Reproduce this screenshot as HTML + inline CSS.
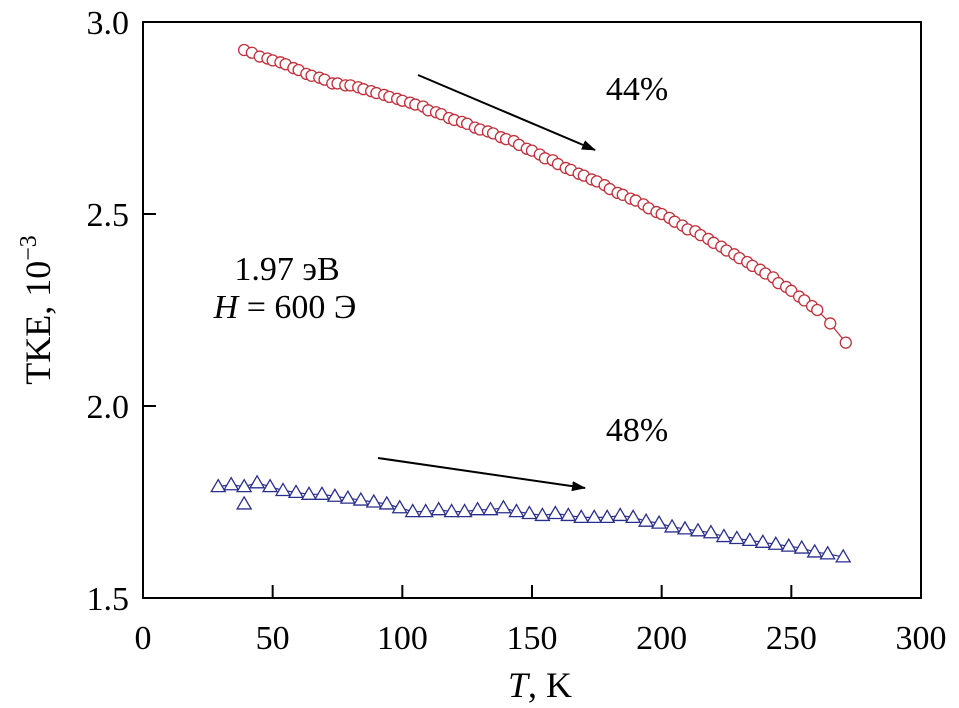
<!DOCTYPE html>
<html><head><meta charset="utf-8"><style>
body{margin:0;background:#fff;}
svg{display:block;font-family:"Liberation Serif",serif;}
</style></head><body>
<svg id="chart" width="959" height="708" viewBox="0 0 959 708" xmlns="http://www.w3.org/2000/svg">
<defs><marker id="ah" markerWidth="14" markerHeight="10" refX="13" refY="5" orient="auto" markerUnits="userSpaceOnUse"><path d="M0,0 L14,5 L0,10 z" fill="#000"/></marker></defs>
<g id="marks"></g>
<rect x="143" y="22" width="778" height="576" fill="none" stroke="#000" stroke-width="2"/>
<g id="axes"></g>
<text x="540" y="697" font-size="36" text-anchor="middle"><tspan font-style="italic">T</tspan>, K</text>
<text transform="translate(50,310) rotate(-90)" font-size="36" text-anchor="middle">TKE, 10<tspan font-size="24" dy="-14">−3</tspan></text>
<text x="287" y="280" font-size="34" text-anchor="middle">1.97 эВ</text>
<text x="285" y="318" font-size="34" text-anchor="middle"><tspan font-style="italic">H</tspan> = 600 Э</text>
<text x="637" y="100" font-size="34" text-anchor="middle">44%</text>
<text x="637" y="441" font-size="34" text-anchor="middle">48%</text>
<line x1="418" y1="75" x2="595" y2="150" stroke="#000" stroke-width="2" marker-end="url(#ah)"/>
<line x1="378" y1="458" x2="585" y2="488" stroke="#000" stroke-width="2" marker-end="url(#ah)"/>
</svg>
<script>
const xTicks=[0,50,100,150,200,250,300];
const yTicks=[1.5,2.0,2.5,3.0];
const yTickLabels=["1.5","2.0","2.5","3.0"];
const redT=[39,42,45,48,50,53,55,58,60,63,65,68,70,73,75,78,80,83,85,88,90,93,95,98,100,103,105,108,110,113,115,118,120,123,125,128,130,133,135,138,140,143,145,148,150,153,155,158,160,163,165,168,170,173,175,178,180,183,185,188,190,193,195,198,200,203,205,208,210,213,215,218,220,223,225,228,230,233,235,238,240,243,245,248,250,253,255,258,260,265,271];
const redV=[2.927,2.92,2.91,2.905,2.90,2.895,2.89,2.88,2.875,2.865,2.86,2.855,2.85,2.84,2.84,2.835,2.835,2.83,2.825,2.82,2.815,2.81,2.805,2.80,2.795,2.79,2.785,2.78,2.77,2.765,2.76,2.75,2.745,2.74,2.735,2.725,2.72,2.715,2.71,2.70,2.695,2.69,2.68,2.67,2.665,2.655,2.645,2.64,2.63,2.62,2.615,2.605,2.60,2.59,2.585,2.575,2.565,2.555,2.55,2.54,2.535,2.525,2.515,2.505,2.50,2.49,2.48,2.47,2.46,2.455,2.445,2.435,2.425,2.415,2.405,2.395,2.385,2.375,2.365,2.355,2.345,2.335,2.32,2.31,2.30,2.285,2.275,2.26,2.25,2.215,2.165];
const blueT=[29,34,39,44,49,54,59,64,69,74,79,84,89,94,99,104,109,114,119,124,129,134,139,144,149,154,159,164,169,174,179,184,189,194,199,204,209,214,219,224,229,234,239,244,249,254,259,264,270];
const blueV=[1.79,1.795,1.79,1.80,1.79,1.78,1.775,1.77,1.77,1.765,1.76,1.755,1.75,1.745,1.735,1.725,1.725,1.73,1.725,1.725,1.73,1.73,1.735,1.725,1.72,1.715,1.72,1.715,1.71,1.71,1.71,1.715,1.71,1.70,1.695,1.685,1.68,1.675,1.67,1.66,1.655,1.65,1.645,1.64,1.635,1.63,1.62,1.615,1.607];
const blueOutT=[39];
const blueOutV=[1.745];
const NS="http://www.w3.org/2000/svg";
const X=t=>143+t*(778/300);
const Y=v=>598-(v-1.5)*(576/1.5);
const marks=document.getElementById('marks'),axes=document.getElementById('axes');
function el(tag,attrs,parent){const e=document.createElementNS(NS,tag);for(const k in attrs)e.setAttribute(k,attrs[k]);parent.appendChild(e);return e;}
xTicks.forEach(t=>{
 if(t>0&&t<300){const l=el('line',{x1:X(t),x2:X(t),y1:598,y2:585,stroke:'#000','stroke-width':2},axes);
 
 }
 const tx=el('text',{x:X(t),y:649,'font-size':34,'text-anchor':'middle'},axes);tx.textContent=t;
 
 
});
yTicks.forEach((v,i)=>{
 if(v>1.5&&v<3.0){const l=el('line',{x1:143,x2:156,y1:Y(v),y2:Y(v),stroke:'#000','stroke-width':2},axes);
 
 }
 const tx=el('text',{x:129,y:Y(v)+12,'font-size':34,'text-anchor':'end'},axes);tx.textContent=yTickLabels[i];
 
 
});
function series(T,V,color,shape,name){
 const p=el('polyline',{points:T.map((t,i)=>X(t)+','+Y(V[i])).join(' '),fill:'none',stroke:color,'stroke-width':1.2},marks);
 
 
 T.forEach((t,i)=>{
  const x=X(t),y=Y(V[i]);let m;
  if(shape==='c')m=el('circle',{cx:x,cy:y,r:5.5,fill:'#fff',stroke:color,'stroke-width':1.3},marks);
  else m=el('polygon',{points:`${x},${y-7} ${x-7},${y+5} ${x+7},${y+5}`,fill:'#fff',stroke:color,'stroke-width':1.3},marks);
  
  
 });
}
series(redT,redV,'#c0303a','c','red-series');
series(blueT,blueV,'#2b2f8c','t','blue-series');
blueOutT.forEach((t,i)=>{const x=X(t),y=Y(blueOutV[i]);
 const m=el('polygon',{points:`${x},${y-7} ${x-7},${y+5} ${x+7},${y+5}`,fill:'#fff',stroke:'#2b2f8c','stroke-width':1.3},marks);
 
 
});
</script>
</body></html>
